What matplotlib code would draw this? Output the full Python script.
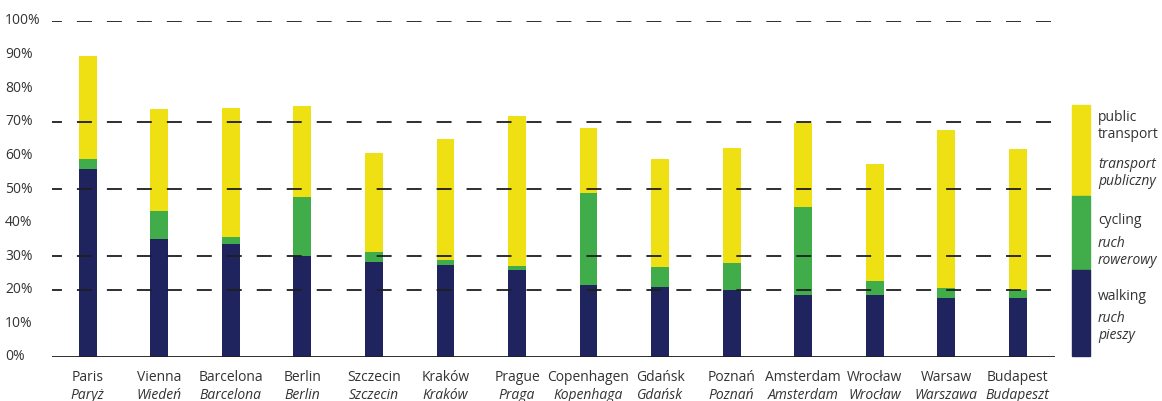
import matplotlib
matplotlib.use("Agg")
import matplotlib.pyplot as plt
import numpy as np
from matplotlib.patches import Rectangle

plt.rcParams["font.family"] = ["Open Sans", "DejaVu Sans"]

# modal share (% of trips) per city
cities_en = ["Paris", "Vienna", "Barcelona", "Berlin", "Szczecin", "Kraków", "Prague",
             "Copenhagen", "Gdańsk", "Poznań", "Amsterdam", "Wrocław", "Warsaw", "Budapest"]
cities_pl = ["Paryż", "Wiedeń", "Barcelona", "Berlin", "Szczecin", "Kraków", "Praga",
             "Kopenhaga", "Gdańsk", "Poznań", "Amsterdam", "Wrocław", "Warszawa", "Budapeszt"]
walking = [56, 35, 33.7, 30, 28.4, 27.4, 25.8, 21.4, 20.7, 19.8, 18.5, 18.5, 17.7, 17.7]
cycling = [3, 8.6, 2, 17.5, 2.8, 1.6, 1.3, 27.5, 6, 8.1, 26.1, 4.2, 2.8, 2.1]
public_transport = [30.6, 30.2, 38.3, 27.2, 29.4, 35.8, 44.7, 19.4, 32.2, 34.2, 25.1, 34.7, 47.1, 42.2]

legend_en = ["public\ntransport", "cycling", "walking"]
legend_pl = ["transport\npubliczny", "ruch\nrowerowy", "ruch\npieszy"]
grid_levels = [20, 30, 50, 70, 100]
yticks = list(range(0, 101, 10))

NAVY = "#1f245f"
GREEN = "#40ad4a"
YELLOW = "#efe014"
TXT = "#333333"
FS = 10

W, H = 1162, 401
fig = plt.figure(figsize=(W / 100, H / 100), dpi=100)
ax = fig.add_axes([52 / W, 44 / H, (1055 - 52) / W, (380 - 44) / H])

x = np.arange(len(cities_en))
walking = np.array(walking)
cycling = np.array(cycling)
public_transport = np.array(public_transport)
bw = 0.25
ax.bar(x, walking, bw, color=NAVY, zorder=2)
ax.bar(x, cycling, bw, bottom=walking, color=GREEN, zorder=2)
ax.bar(x, public_transport, bw, bottom=walking + cycling, color=YELLOW, zorder=2)

# dashed reference lines run over the bars
for lv in grid_levels:
    ax.axhline(lv, color="#1e1e1e", lw=1.3, linestyle=(2.8, (8.3, 8.3)),
               dash_capstyle="butt", zorder=3)
ax.axhline(0, color="#1e1e1e", lw=1.3, zorder=3)

ax.set_xlim(-0.5, 13.52)
ax.set_ylim(0, 100)
for s in ax.spines.values():
    s.set_visible(False)
ax.set_xticks([])
ax.set_yticks([])

# y labels, left aligned at the figure edge
for v in yticks:
    ax.text(5 / W, 44 / H + v / 100 * (336 / H), f"{v}%", transform=fig.transFigure,
            ha="left", va="center", fontsize=FS, color=TXT)

# two-line city labels
for i in x:
    ax.text(i, -6.2, cities_en[i], ha="center", va="center", fontsize=FS, color=TXT)
    ax.text(i, -11.4, cities_pl[i], ha="center", va="center", fontsize=FS,
            color=TXT, style="italic")

# legend column
segs = [(105, 196, YELLOW), (196, 270, GREEN), (270, 356, NAVY)]
for top, bot, c in segs:
    fig.patches.append(Rectangle((1072 / W, 1 - bot / H), 18 / W, (bot - top) / H,
                                 transform=fig.transFigure, color=c))
en_y = [126, 221, 296]
pl_y = [173, 252, 327]
for t, yy in zip(legend_en, en_y):
    fig.text(1098 / W, 1 - yy / H, t, ha="left", va="center", fontsize=FS,
             color=TXT, linespacing=1.15)
for t, yy in zip(legend_pl, pl_y):
    fig.text(1098 / W, 1 - yy / H, t, ha="left", va="center", fontsize=FS,
             color=TXT, style="italic", linespacing=1.15)

fig.savefig("out.png", dpi=100, facecolor="white")
